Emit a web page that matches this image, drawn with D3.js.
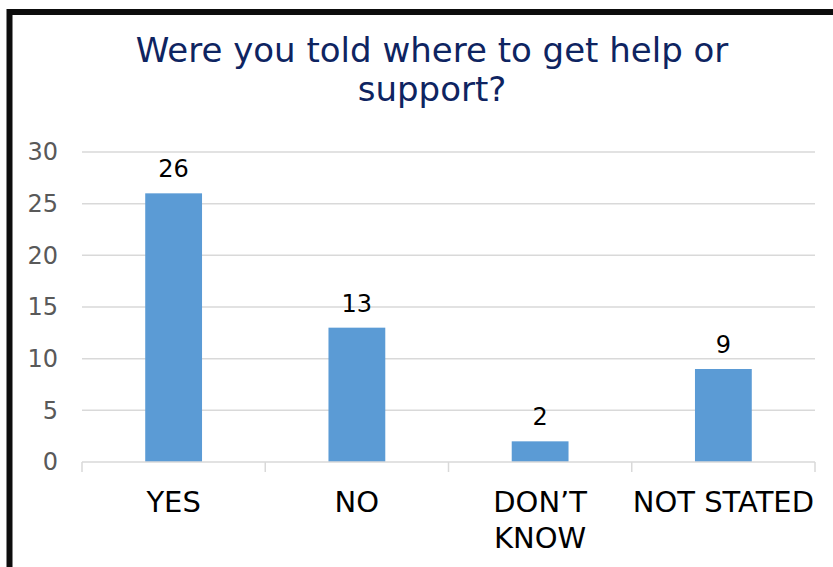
<!DOCTYPE html>
<html>
<head>
<meta charset="utf-8">
<script src="https://cdn.jsdelivr.net/npm/d3@7"></script>
<style>
  body { margin: 0; background: #fff; }
  svg { display: block; }
</style>
</head>
<body>
<div id="vis"></div>
<script>
var categories = ["YES", "NO", "DON\u2019T KNOW", "NOT STATED"];
var values = [26, 13, 2, 9];
var yTicks = [0, 5, 10, 15, 20, 25, 30];
var titleLines = ["Were you told where to get help or", "support?"];

var width = 833, height = 567;
var font = "'DejaVu Sans', sans-serif";

var svg = d3.select('#vis').append('svg')
  .attr('width', width)
  .attr('height', height);

// outer frame (runs off the right and bottom edges)
svg.append('rect')
  .attr('x', 9.5).attr('y', 12)
  .attr('width', 900).attr('height', 700)
  .attr('fill', '#fff')
  .attr('stroke', '#0d0d0d')
  .attr('stroke-width', 6);

var plot = { left: 82, right: 815, top: 152, bottom: 462 };

var x = d3.scaleBand()
  .domain(categories)
  .range([plot.left, plot.right])
  .paddingInner(0.69)
  .paddingOuter(0.345);

var y = d3.scaleLinear()
  .domain([0, 30])
  .range([plot.bottom, plot.top]);

// title
svg.append('text')
  .attr('x', 432)
  .attr('y', 62)
  .attr('text-anchor', 'middle')
  .attr('font-family', font)
  .attr('font-size', 34)
  .attr('fill', '#0e2461')
  .selectAll('tspan')
  .data(titleLines)
  .enter().append('tspan')
  .attr('x', 432)
  .attr('dy', function (d, i) { return i === 0 ? 0 : 39; })
  .text(function (d) { return d; });

// gridlines
svg.append('g')
  .selectAll('line')
  .data(yTicks.filter(function (d) { return d > 0; }))
  .enter().append('line')
  .attr('x1', plot.left).attr('x2', plot.right)
  .attr('y1', function (d) { return y(d); })
  .attr('y2', function (d) { return y(d); })
  .attr('stroke', '#d9d9d9')
  .attr('stroke-width', 1.5);

// y axis labels
var yAxis = svg.append('g')
  .attr('transform', 'translate(' + plot.left + ',0)')
  .call(d3.axisLeft(y).tickValues(yTicks).tickSize(0).tickPadding(24));
yAxis.select('.domain').remove();
yAxis.selectAll('text')
  .attr('font-family', font)
  .attr('font-size', 24)
  .attr('fill', '#595959');

// bars
svg.append('g')
  .selectAll('rect')
  .data(values)
  .enter().append('rect')
  .attr('x', function (d, i) { return x(categories[i]); })
  .attr('y', function (d) { return y(d); })
  .attr('width', x.bandwidth())
  .attr('height', function (d) { return y(0) - y(d); })
  .attr('fill', '#5b9bd5');

// value labels
svg.append('g')
  .selectAll('text')
  .data(values)
  .enter().append('text')
  .attr('x', function (d, i) { return x(categories[i]) + x.bandwidth() / 2; })
  .attr('y', function (d) { return y(d) - 16; })
  .attr('text-anchor', 'middle')
  .attr('font-family', font)
  .attr('font-size', 24)
  .attr('fill', '#000')
  .text(function (d) { return d; });

// x axis line and boundary ticks
var bounds = d3.range(categories.length + 1).map(function (i) {
  return plot.left + i * (plot.right - plot.left) / categories.length;
});
svg.append('line')
  .attr('x1', plot.left).attr('x2', plot.right)
  .attr('y1', plot.bottom).attr('y2', plot.bottom)
  .attr('stroke', '#d9d9d9')
  .attr('stroke-width', 1.5);
svg.append('g')
  .selectAll('line')
  .data(bounds)
  .enter().append('line')
  .attr('x1', function (d) { return d; })
  .attr('x2', function (d) { return d; })
  .attr('y1', plot.bottom).attr('y2', plot.bottom + 10)
  .attr('stroke', '#d9d9d9')
  .attr('stroke-width', 1.5);

// category labels (wrap two-word labels that don't fit)
var catLabels = svg.append('g')
  .selectAll('text')
  .data(categories)
  .enter().append('text')
  .attr('x', function (d) { return x(d) + x.bandwidth() / 2; })
  .attr('y', 512)
  .attr('text-anchor', 'middle')
  .attr('font-family', font)
  .attr('font-size', 29)
  .attr('fill', '#000');

catLabels.each(function (d) {
  var cx = x(d) + x.bandwidth() / 2;
  var lines = d === "DON\u2019T KNOW" ? d.split(' ') : [d];
  d3.select(this).selectAll('tspan')
    .data(lines)
    .enter().append('tspan')
    .attr('x', cx)
    .attr('dy', function (l, i) { return i === 0 ? 0 : 36; })
    .text(function (l) { return l; });
});
</script>
</body>
</html>
